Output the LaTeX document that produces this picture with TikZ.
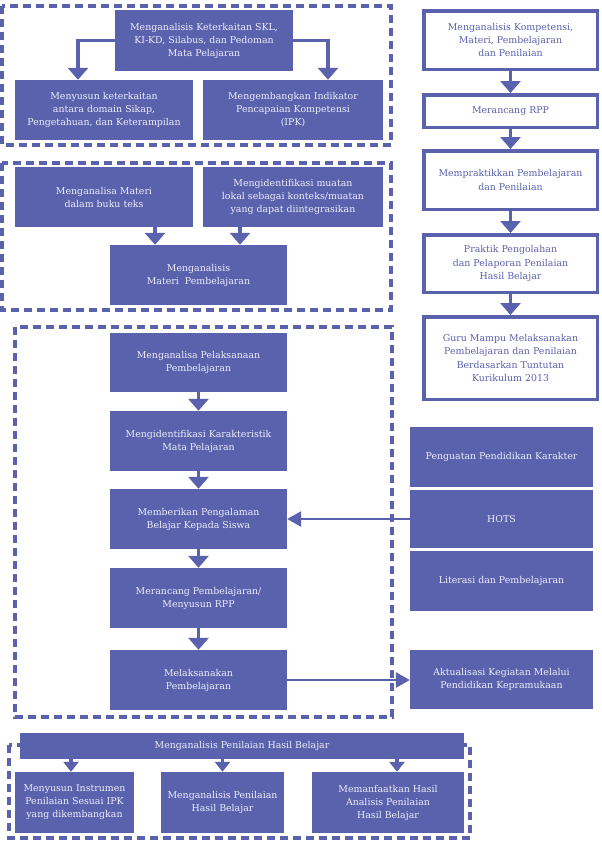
\documentclass[tikz,border=0pt]{standalone}
\usepackage{fontspec}
\setmainfont{DejaVu Serif}
\usetikzlibrary{arrows.meta,calc}
\definecolor{bv}{HTML}{5A61AD}
\definecolor{lt}{HTML}{EEEEF8}
\begin{document}
\begin{tikzpicture}[x=1pt,y=-1pt,
  fillbox/.style={fill=bv, draw=none, text=lt, align=center, inner sep=2pt,
    font=\fontsize{9.4}{13}\selectfont},
  linebox/.style={fill=white, draw=bv, line width=3.5pt, text=bv, align=center, inner sep=2pt,
    minimum width=173.5pt, font=\fontsize{9.4}{13.3}\selectfont},
  dbox/.style={draw=bv, line width=3.5pt, dash pattern=on 8pt off 5pt},
  bigarr/.style={draw=bv, line width=3.4pt, -{Triangle[width=20pt,length=12pt]}},
  midarr/.style={draw=bv, line width=3.2pt, -{Triangle[width=15pt,length=10pt]}},
  sidearr/.style={draw=bv, line width=2.7pt, -{Triangle[width=15pt,length=14pt]}}
]
\useasboundingbox (0,0) rectangle (602,868);
\fill[white] (0,0) rectangle (602,868);

% dashed frames
\draw[dbox] (2,6) rectangle (391,145);
\draw[dbox] (2,163) rectangle (391,310);
\draw[dbox] (15,327) rectangle (392,717);
\draw[dbox] (9,745) rectangle (470,838);

% group A
\node[fillbox, minimum width=178pt, minimum height=61pt] (A1) at (204,40.5)
  {Menganalisis Keterkaitan SKL,\\KI-KD, Silabus, dan Pedoman\\Mata Pelajaran};
\node[fillbox, minimum width=178pt, minimum height=60pt] (A2) at (104,110)
  {Menyusun keterkaitan\\antara domain Sikap,\\Pengetahuan, dan Keterampilan};
\node[fillbox, minimum width=180pt, minimum height=60pt] (A3) at (293,110)
  {Mengembangkan Indikator\\Pencapaian Kompetensi\\(IPK)};
\draw[bigarr] (A1.west) -| ([xshift=-26pt]A2.north);
\draw[bigarr] (A1.east) -| ([xshift=35pt]A3.north);

% group B
\node[fillbox, minimum width=178pt, minimum height=60pt] (B1) at (104,197)
  {Menganalisa Materi\\dalam buku teks};
\node[fillbox, minimum width=180pt, minimum height=60pt] (B2) at (293,197)
  {Mengidentifikasi muatan\\lokal sebagai konteks/muatan\\yang dapat diintegrasikan};
\node[fillbox, minimum width=177pt, minimum height=60pt] (B3) at (198.5,275)
  {Menganalisis\\Materi~~Pembelajaran};
\draw[bigarr] ([xshift=51pt]B1.south) -- ([xshift=51pt]B1.south |- B3.north);
\draw[bigarr] ([xshift=-53pt]B2.south) -- ([xshift=-53pt]B2.south |- B3.north);

% right column
\node[linebox, minimum height=58.5pt] (R1) at (510.5,40)
  {Menganalisis Kompetensi,\\Materi, Pembelajaran\\dan Penilaian};
\node[linebox, minimum height=32.5pt] (R2) at (510.5,111) {Merancang RPP};
\node[linebox, minimum height=58.5pt] (R3) at (510.5,180)
  {Mempraktikkan Pembelajaran\\dan Penilaian};
\node[linebox, minimum height=57.5pt] (R4) at (510.5,263.5)
  {Praktik Pengolahan\\dan Pelaporan Penilaian\\Hasil Belajar};
\node[linebox, minimum height=82.5pt] (R5) at (510.5,358)
  {Guru Mampu Melaksanakan\\Pembelajaran dan Penilaian\\Berdasarkan Tuntutan\\Kurikulum 2013};
\draw[bigarr] (R1.south) -- (R2.north);
\draw[bigarr] (R2.south) -- (R3.north);
\draw[bigarr] (R3.south) -- (R4.north);
\draw[bigarr] (R4.south) -- (R5.north);

% group C
\node[fillbox, minimum width=177pt, minimum height=59pt] (C1) at (198.5,362.5)
  {Menganalisa Pelaksanaan\\Pembelajaran};
\node[fillbox, minimum width=177pt, minimum height=60pt] (C2) at (198.5,441)
  {Mengidentifikasi Karakteristik\\Mata Pelajaran};
\node[fillbox, minimum width=177pt, minimum height=60pt] (C3) at (198.5,519)
  {Memberikan Pengalaman\\Belajar Kepada Siswa};
\node[fillbox, minimum width=177pt, minimum height=60pt] (C4) at (198.5,598)
  {Merancang Pembelajaran/\\Menyusun RPP};
\node[fillbox, minimum width=177pt, minimum height=60pt] (C5) at (198.5,680)
  {Melaksanakan\\Pembelajaran};
\draw[bigarr] (C1.south) -- (C2.north);
\draw[bigarr] (C2.south) -- (C3.north);
\draw[bigarr] (C3.south) -- (C4.north);
\draw[bigarr] (C4.south) -- (C5.north);

% group D
\node[fillbox, minimum width=183pt, minimum height=60pt] (D1) at (501.5,457)
  {Penguatan Pendidikan Karakter};
\node[fillbox, minimum width=183pt, minimum height=58pt] (D2) at (501.5,519) {HOTS};
\node[fillbox, minimum width=183pt, minimum height=60pt] (D3) at (501.5,581)
  {Literasi dan Pembelajaran};
\node[fillbox, minimum width=183pt, minimum height=59pt] (D4) at (501.5,679.5)
  {Aktualisasi Kegiatan Melalui\\Pendidikan Kepramukaan};
\draw[sidearr] (D2.west) -- (C3.east);
\draw[sidearr] (C5.east) -- (C5.east -| D4.west);

% group E
\node[fillbox, minimum width=444pt, minimum height=26pt] (E0) at (242,746)
  {Menganalisis Penilaian Hasil Belajar};
\node[fillbox, minimum width=119pt, minimum height=61pt] (E1) at (74.5,802.5)
  {Menyusun Instrumen\\Penilaian Sesuai IPK\\yang dikembangkan};
\node[fillbox, minimum width=123pt, minimum height=61pt] (E2) at (222.5,802.5)
  {Menganalisis Penilaian\\Hasil Belajar};
\node[fillbox, minimum width=152pt, minimum height=61pt] (E3) at (388,802.5)
  {Memanfaatkan Hasil\\Analisis Penilaian\\Hasil Belajar};
\draw[midarr] ([xshift=-3.5pt]E1.north |- E0.south) -- ([xshift=-3.5pt]E1.north);
\draw[midarr] (E2.north |- E0.south) -- (E2.north);
\draw[midarr] ([xshift=9pt]E3.north |- E0.south) -- ([xshift=9pt]E3.north);
\end{tikzpicture}
\end{document}
